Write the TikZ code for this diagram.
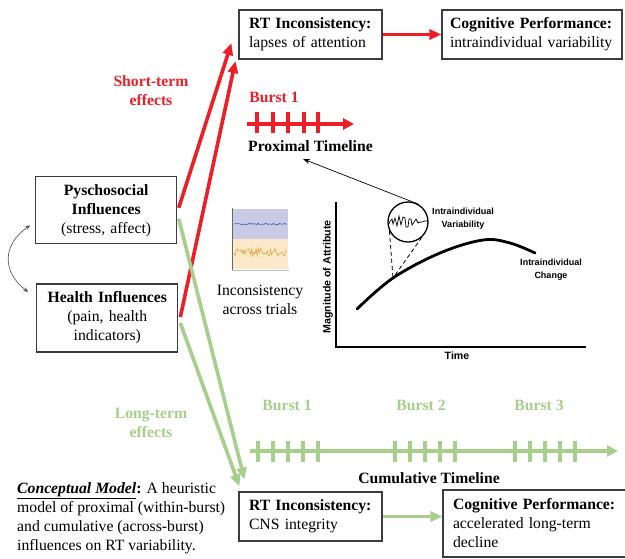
\documentclass[tikz,border=0pt]{standalone}
\usepackage{fontspec}
\setmainfont{Liberation Serif}
\newfontfamily\graphfont{Liberation Sans}
\usetikzlibrary{arrows.meta,calc}

\definecolor{effred}{RGB}{237,30,38}
\definecolor{effgreen}{RGB}{166,207,139}
\definecolor{boxline}{RGB}{60,60,60}
\definecolor{bandblue}{RGB}{201,203,230}
\definecolor{bandbeige}{RGB}{252,233,202}
\definecolor{traceblue}{RGB}{70,90,165}
\definecolor{traceorange}{RGB}{222,165,70}

\newcommand{\bodyfont}{\fontsize{15.7}{19}\selectfont\hyphenpenalty=10000\relax}
\newcommand{\notefont}{\graphfont\bfseries\fontsize{9}{12.5}\selectfont}
\newcommand{\axisfont}{\graphfont\bfseries\fontsize{10.6}{12}\selectfont}

\begin{document}
\begin{tikzpicture}[x=1pt,y=-1pt,
  box/.style={draw=boxline, line width=1.1pt, inner xsep=10pt, inner ysep=0pt,
              font=\bodyfont, align=left},
  effarrow/.style={line width=3.6pt, -{Triangle[length=12pt,width=10pt]}},
  redeff/.style={effarrow, draw=effred},
  greeneff/.style={effarrow, draw=effgreen},
  tick/.style={line width=3.2pt},
  timeline/.style={line width=3.6pt, -{Triangle[length=11pt,width=11pt]}},
  efflabel/.style={font=\bodyfont\bfseries, align=center},
  note/.style={font=\notefont, align=center, inner sep=0pt}]

\useasboundingbox (0,0) rectangle (625,558);
\clip (0,0) rectangle (625,558);

% ---- boxes ----
\node[box, text width=123pt, minimum height=49pt] (rttop) at (310.5,34.5)
  {\textbf{RT Inconsistency:}\\lapses of attention};
\node[box, inner xsep=8pt, text width=164pt, minimum height=49pt] (cogtop) at (532,34.5)
  {\textbf{Cognitive Performance:}\\intraindividual variability};
\node[box, align=center, text width=121pt, minimum height=67pt] (psych) at (106.2,210.3)
  {\textbf{Pyschosocial}\\\textbf{Influences}\\(stress, affect)};
\node[box, align=center, text width=121pt, minimum height=68pt] (health) at (107.3,318)
  {\textbf{Health Influences}\\(pain, health\\indicators)};
\node[box, text width=123pt, minimum height=49pt] (rtbot) at (310.5,516.5)
  {\textbf{RT Inconsistency:}\\CNS integrity};
\node[box, text width=174pt, minimum height=67pt] (cogbot) at (540,523.5)
  {\textbf{Cognitive Performance:}\\accelerated long-term\\decline};

% ---- short-term (red) paths ----
\draw[redeff] ([shift={(1.5,-2.5)}]psych.east) -- ([shift={(-7,8.5)}]rttop.west);
\draw[redeff] ([shift={(2,-1)}]health.east) -- ([shift={(-3,26.5)}]rttop.west);
\draw[redeff] (rttop.east) -- (cogtop.west);
\node[efflabel, text=effred] (stlab) at (151,90.5) {Short-term\\effects};

% ---- long-term (green) paths ----
\draw[greeneff] ([shift={(1.5,8.5)}]psych.east) -- ([shift={(6,-12)}]rtbot.north west);
\draw[greeneff] ([shift={(2,5)}]health.east) -- ([shift={(1,-5)}]rtbot.north west);
\draw[greeneff] (rtbot.east) -- (rtbot.east -| cogbot.west);
\node[efflabel, text=effgreen] (ltlab) at (151,422.5) {Long-term\\effects};

% ---- correlation between the two influences ----
\draw[black!70, line width=0.6pt, {Stealth[length=5pt,width=4pt]}-{Stealth[length=5pt,width=4pt]}]
  ([shift={(-5,15)}]psych.west) .. controls (2,245) and (2,272) .. ([shift={(-8,-26)}]health.west);

% ---- proximal timeline ----
\node[efflabel, text=effred] (burstA) at (274,97) {Burst 1};
\coordinate (proxstart) at (247,124);
\coordinate (proxend) at (354,124);
\draw[timeline, draw=effred] (proxstart) -- (proxend);
\foreach \t in {257,273,288,304,318}
  \draw[tick, effred] (\t,112) -- (\t,133);
\node[efflabel] (prox) at (310.5,146.5) {Proximal Timeline};

% ---- cumulative timeline ----
\node[efflabel, text=effgreen] (burst1) at (287,405) {Burst 1};
\node[efflabel, text=effgreen] (burst2) at (421,405) {Burst 2};
\node[efflabel, text=effgreen] (burst3) at (539,405) {Burst 3};
\coordinate (cumstart) at (250,451);
\coordinate (cumend) at (618,451);
\draw[timeline, draw=effgreen] (cumstart) -- (cumend);
\foreach \t in {258,273,288,303,318, 395,410,425,440,455, 515,530,545,560,575}
  \draw[tick, effgreen] (\t,440.5) -- (\t,462);
\node[efflabel] (cum) at (429,478) {Cumulative Timeline};

% ---- trial-level inconsistency inset ----
\fill[bandblue] (232,209) rectangle (288,239);
\fill[bandbeige] (232,239) rectangle (288,269);
\draw[black!60, line width=0.6pt] (232,208) -- (232,270);
\draw[black!25, line width=0.6pt] (232,270) -- (289,270);
\pgfmathsetseed{11}
\draw[traceblue, line width=0.6pt] plot[domain=234:286, samples=42] (\x,{224+0.8*rand});
\draw[traceorange, line width=0.6pt] plot[domain=234:286, samples=48] (\x,{252.5+4*rand});
\node[font=\bodyfont, align=center] (inconlab) at (260,300) {Inconsistency\\across trials};

% ---- attribute-over-time graph ----
\draw[black, line width=1.2pt] (336,202) -- (336,347) -- (586,347);
\node[font=\axisfont] (timelab) at (457,356) {Time};
\node[font=\axisfont, rotate=90] (maglab) at (328,277) {Magnitude of Attribute};
\draw[black, line width=2.8pt, line cap=round]
  plot[smooth, tension=0.6] coordinates {(357,309) (393,278) (440,253) (483,240) (510,243) (535,253)};
\coordinate (tangent) at (393,278);
\node[circle, draw, line width=1.3pt, minimum size=40pt, inner sep=0pt, fill=white] (circ) at (408,222) {};
\draw[line width=0.7pt]
  plot[sharp corners] coordinates {(389,224) (390,221) (392,219) (393,224) (395,218) (397,226)
    (399,216) (401,225) (403,217) (405,218) (406,227) (408,227) (409,219) (411,219) (412,225)
    (414,222) (416,219) (418,223) (420,222) (422,222) (425,221) (428,221)};
\draw[dashed, line width=0.8pt, dash pattern=on 4pt off 3pt] (circ.206) -- (tangent);
\draw[dashed, line width=0.8pt, dash pattern=on 4pt off 3pt] (circ.312) -- (tangent);
\node[note] (ivlab) at (463,218.5) {Intraindividual\\Variability};
\node[note] (iclab) at (551,269.5) {Intraindividual\\Change};

% ---- link from the zoomed variability to the proximal timeline ----
\coordinate (proxtip) at (303,159);
\draw[line width=0.7pt, -{Stealth[length=7pt,width=5pt]}] (circ.60) -- (proxtip);

% ---- caption ----
\node[anchor=north west, font=\bodyfont, align=left, inner sep=0pt] (caption) at (17,482)
  {\underline{\textbf{\textit{Conceptual Model}}}\textbf{:} A heuristic\\
   model of proximal (within-burst)\\
   and cumulative (across-burst)\\
   influences on RT variability.};
\end{tikzpicture}
\end{document}
